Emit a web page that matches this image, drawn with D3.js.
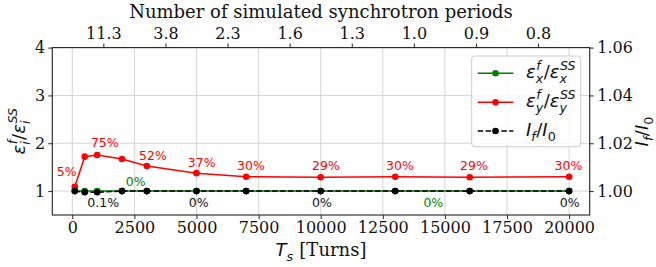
<!DOCTYPE html>
<html>
<head>
<meta charset="utf-8">
<script src="https://cdn.jsdelivr.net/npm/d3@7"></script>
<style>
  html, body { margin: 0; padding: 0; background: #fff; }
  svg { display: block; }
</style>
</head>
<body>
<svg id="chart" width="656" height="267"></svg>
<script>
// ---------------- data ----------------
const turns = [100, 500, 1000, 2000, 3000, 5000, 7000, 10000, 13000, 16000, 20000];
const epsX  = [1.00, 1.00, 1.00, 1.00, 1.00, 1.00, 1.00, 1.00, 1.00, 1.00, 1.00];
const epsY  = [1.09, 1.72, 1.755, 1.67, 1.525, 1.375, 1.30, 1.29, 1.30, 1.29, 1.30];
const intensity = [1.000, 0.9995, 0.9995, 1.000, 1.000, 1.000, 1.000, 1.000, 1.000, 1.000, 1.000];

const bottomTicks = [0, 2500, 5000, 7500, 10000, 12500, 15000, 17500, 20000];
const leftTicks = [1, 2, 3, 4];
const rightTicks = [1.00, 1.02, 1.04, 1.06];
const topTickTurns = [1250, 3750, 6250, 8750, 11250, 13750, 16250, 18750];
const topTickLabels = ["11.3", "3.8", "2.3", "1.6", "1.3", "1.0", "0.9", "0.8"];

// annotations (text, turns, left-axis value)
const redNotes   = ["5%", "75%", "52%", "37%", "30%", "29%", "30%", "29%", "30%"];
const redNoteX   = [-225, 1308, 3249, 5209, 7194, 10213, 13192, 16171, 19976];
const redNoteY   = [1.40, 2.01, 1.75, 1.59, 1.545, 1.545, 1.545, 1.545, 1.545];
const greenNotes = ["0%", "0%"];
const greenNoteX = [2552, 14533];
const greenNoteY = [1.195, 0.755];
const blackNotes = ["0.1%", "0%", "0%", "0%"];
const blackNoteX = [1243, 5089, 10052, 20024];
const blackNoteY = [0.76, 0.755, 0.755, 0.755];

// ---------------- layout ----------------
const L = 52.3, R = 589.7, T = 47.6, B = 215;
const serif = "'DejaVu Serif', serif";
const sans = "'DejaVu Sans', sans-serif";
const GREEN = "#008000", RED = "#ff0000", BLACK = "#000000";

const svg = d3.select("#chart");

const x = d3.scaleLinear().domain([-805, 20829]).range([L, R]);
const yL = d3.scaleLinear().domain([0.5, 4]).range([B, T]);
const yR = d3.scaleLinear().domain([0.99, 1.06]).range([B, T]);

// grid
const grid = svg.append("g").attr("class", "grid");
grid.selectAll("line.v").data(bottomTicks).join("line")
  .attr("x1", d => x(d)).attr("x2", d => x(d)).attr("y1", T).attr("y2", B)
  .attr("stroke", "#d4d4d4").attr("stroke-width", 1);
grid.selectAll("line.h").data(leftTicks).join("line")
  .attr("x1", L).attr("x2", R).attr("y1", d => yL(d)).attr("y2", d => yL(d))
  .attr("stroke", "#d4d4d4").attr("stroke-width", 1);

// axes
function styleAxis(g) {
  g.select(".domain").remove();
  g.selectAll(".tick line").attr("stroke", "#222").attr("stroke-width", 1);
  g.selectAll(".tick text").attr("fill", "#111")
    .style("font-family", serif).style("font-size", "16px");
}
svg.append("g").attr("transform", `translate(0,${B})`)
  .call(d3.axisBottom(x).tickValues(bottomTicks).tickFormat(d3.format("d")).tickSize(4).tickPadding(3).tickSizeOuter(0))
  .call(styleAxis);
svg.append("g").attr("transform", `translate(0,${T})`)
  .call(d3.axisTop(x).tickValues(topTickTurns).tickFormat((d, i) => topTickLabels[i]).tickSize(4).tickPadding(5).tickSizeOuter(0))
  .call(styleAxis);
svg.append("g").attr("transform", `translate(${L},0)`)
  .call(d3.axisLeft(yL).tickValues(leftTicks).tickFormat(d3.format("d")).tickSize(4).tickPadding(3).tickSizeOuter(0))
  .call(styleAxis);
svg.append("g").attr("transform", `translate(${R},0)`)
  .call(d3.axisRight(yR).tickValues(rightTicks).tickFormat(d3.format(".2f")).tickSize(4).tickPadding(3.5).tickSizeOuter(0))
  .call(styleAxis);

// series
const plot = svg.append("g");
function series(vals, yScale, color, dash) {
  const pts = turns.map((t, i) => [t, vals[i]]);
  plot.append("path").datum(pts)
    .attr("d", d3.line().x(d => x(d[0])).y(d => yScale(d[1])))
    .attr("fill", "none").attr("stroke", color).attr("stroke-width", 1.5)
    .attr("stroke-dasharray", dash || null);
  plot.append("g").selectAll("circle").data(pts).join("circle")
    .attr("cx", d => x(d[0])).attr("cy", d => yScale(d[1])).attr("r", 3.3)
    .attr("fill", color);
}
series(epsX, yL, GREEN);
series(epsY, yL, RED);
series(intensity, yR, BLACK, "5.5,2.4");

// annotations
function notes(texts, xs, ys, color) {
  svg.append("g").selectAll("text").data(texts).join("text")
    .attr("x", (d, i) => x(xs[i])).attr("y", (d, i) => yL(ys[i]))
    .attr("dy", "0.36em").attr("text-anchor", "middle")
    .attr("fill", color).style("font-family", sans).style("font-size", "12.5px")
    .text(d => d);
}
notes(redNotes, redNoteX, redNoteY, RED);
notes(greenNotes, greenNoteX, greenNoteY, GREEN);
notes(blackNotes, blackNoteX, blackNoteY, "#111");

// frame
svg.append("rect").attr("x", L).attr("y", T).attr("width", R - L).attr("height", B - T)
  .attr("fill", "none").attr("stroke", "#222").attr("stroke-width", 1.1);

// math text helper (separate text pieces, stacked sub/superscripts)
function mathText(g, parts, size, color) {
  let cx = 0;
  const mk = (txt, px, py, fs, it, fam) => {
    const t = g.append("text").attr("x", px).attr("y", py)
      .style("font-family", fam || sans).style("font-style", it ? "italic" : "normal")
      .style("font-size", fs + "px").style("white-space", "pre").attr("fill", color).text(txt);
    return t.node().getComputedTextLength();
  };
  parts.forEach(p => {
    if (p.b !== undefined) {
      cx += mk(p.b, cx, 0, size, p.it, p.fam);
    } else {
      let w = 0;
      const s = size * 0.7;
      if (p.sup) w = Math.max(w, mk(p.sup, cx + 0.5, -0.45 * size, s, true));
      if (p.sub) w = Math.max(w, mk(p.sub, cx, 0.25 * size, s, p.subUp ? false : true));
      cx += w + 0.5;
    }
  });
  return cx;
}

// titles
svg.append("text").attr("x", (L + R) / 2).attr("y", 17.5).attr("text-anchor", "middle")
  .style("font-family", serif).style("font-size", "18px").attr("fill", "#111")
  .text("Number of simulated synchrotron periods");

function centeredMath(parts, tx, ty, rot) {
  const g = svg.append("g");
  const inner = g.append("g");
  const w = mathText(inner, parts, 18, "#111");
  inner.attr("transform", `translate(${-w / 2},0)`);
  g.attr("transform", `translate(${tx},${ty})` + (rot ? ` rotate(${rot})` : ""));
}
centeredMath([{ b: "T", it: true }, { sub: "s" }, { b: " [Turns]", fam: serif }], (L + R) / 2, 256, 0);
centeredMath([{ b: "ε", it: true }, { sup: "f", sub: "i" }, { b: "/" }, { b: "ε", it: true }, { sup: "SS", sub: "i" }], 25, (T + B) / 2, -90);
centeredMath([{ b: "I", it: true }, { sub: "f" }, { b: "/" }, { b: "I", it: true }, { sub: "0", subUp: true }], 648, (T + B) / 2, -90);

// legend
const leg = svg.append("g");
leg.append("rect").attr("x", 471.7).attr("y", 56).attr("width", 109).attr("height", 90.7)
  .attr("rx", 3).attr("fill", "rgba(255,255,255,0.8)").attr("stroke", "#cccccc").attr("stroke-width", 1);
const legItems = [
  { color: GREEN, dash: null, parts: [{ b: "ε", it: true }, { sup: "f", sub: "x" }, { b: "/" }, { b: "ε", it: true }, { sup: "SS", sub: "x" }] },
  { color: RED, dash: null, parts: [{ b: "ε", it: true }, { sup: "f", sub: "y" }, { b: "/" }, { b: "ε", it: true }, { sup: "SS", sub: "y" }] },
  { color: BLACK, dash: "5.5,2.4", parts: [{ b: "I", it: true }, { sub: "f" }, { b: "/" }, { b: "I", it: true }, { sub: "0", subUp: true }] }
];
const rowY = [73.3, 102.3, 131];
legItems.forEach((it, i) => {
  const gy = rowY[i];
  leg.append("line").attr("x1", 477.7).attr("x2", 513.3).attr("y1", gy).attr("y2", gy)
    .attr("stroke", it.color).attr("stroke-width", 1.5).attr("stroke-dasharray", it.dash);
  leg.append("circle").attr("cx", 495.5).attr("cy", gy).attr("r", 3.3).attr("fill", it.color);
  const tg = leg.append("g").attr("transform", `translate(526,${gy + 5})`);
  mathText(tg, it.parts, 18, "#111");
});
</script>
</body>
</html>
